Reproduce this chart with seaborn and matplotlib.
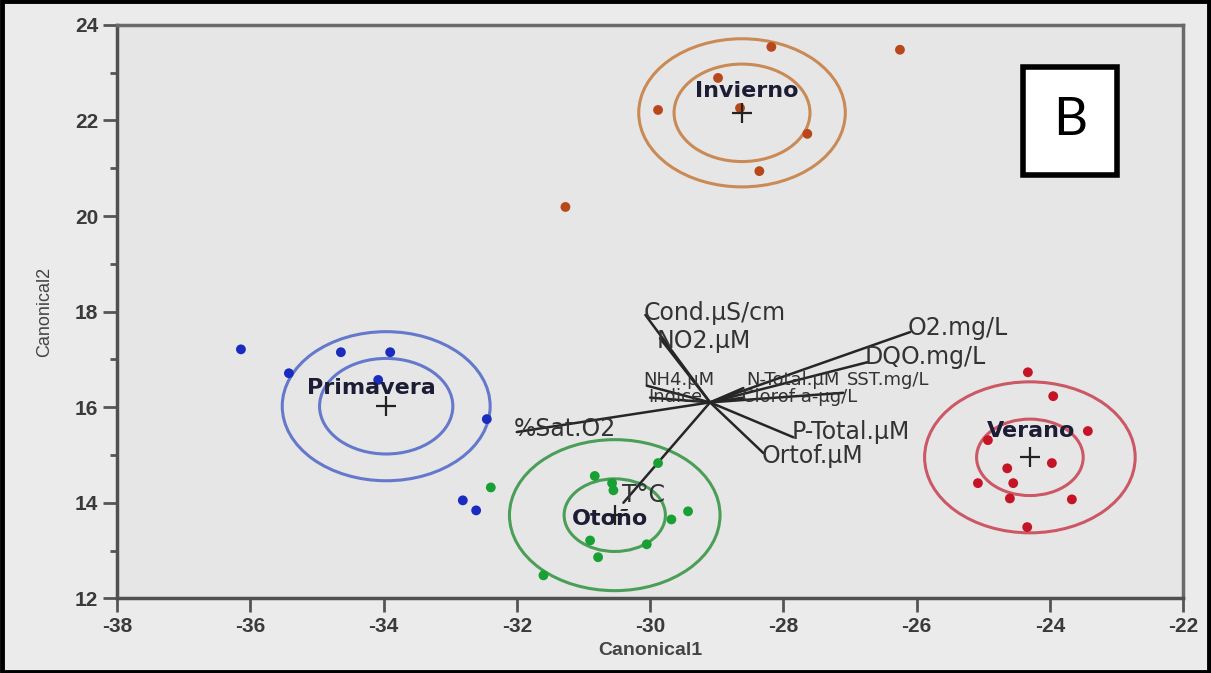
import matplotlib
matplotlib.use('Agg')
import matplotlib.pyplot as plt
from matplotlib.patches import Circle, Rectangle
from matplotlib.ticker import MultipleLocator
import pandas as pd
import seaborn as sns

# puntos por estacion
inv_x = [-28.18, -26.25, -28.98, -29.88, -28.65, -27.64, -28.36, -31.27]
inv_y = [23.54, 23.48, 22.89, 22.22, 22.26, 21.72, 20.94, 20.19]
pri_x = [-36.14, -35.42, -34.64, -33.90, -34.08, -32.45, -32.81, -32.61]
pri_y = [17.21, 16.71, 17.15, 17.15, 16.57, 15.75, 14.05, 13.84]
oto_x = [-32.39, -30.83, -30.57, -30.55, -29.43, -29.68, -30.90, -30.05, -30.78, -31.60, -29.88]
oto_y = [14.32, 14.56, 14.41, 14.26, 13.82, 13.65, 13.21, 13.13, 12.86, 12.48, 14.83]
ver_x = [-24.33, -23.95, -23.43, -24.93, -23.97, -24.64, -25.08, -24.55, -24.60, -23.67, -24.34]
ver_y = [16.73, 16.23, 15.50, 15.31, 14.83, 14.72, 14.41, 14.41, 14.09, 14.07, 13.49]

estaciones = ['Invierno', 'Primavera', 'Otoño', 'Verano']
centro_x = [-28.62, -33.96, -30.53, -24.30]
centro_y = [22.16, 16.02, 13.74, 14.95]
radio_int = [1.02, 1.00, 0.76, 0.80]
radio_ext = [1.55, 1.56, 1.58, 1.58]
etiqueta_x = [-28.55, -34.18, -30.60, -24.28]
etiqueta_y = [22.62, 16.40, 13.66, 15.50]

# vectores del biplot
origen = (-29.10, 16.10)
var_nombres = ['Cond.µS/cm', 'NO2.µM', 'NH4.µM', 'N-Total.µM', 'Indice',
               'Clorof a-µg/L', 'SST.mg/L', 'O2.mg/L', 'DQO.mg/L',
               'P-Total.µM', 'Ortof.µM', '%Sat.O2', 'T°C']
var_x = [-30.07, -29.85, -30.05, -28.60, -30.00, -28.60, -27.10, -26.10,
         -26.74, -27.85, -28.30, -32.00, -30.40]
var_y = [17.93, 17.44, 16.45, 16.40, 16.20, 16.20, 16.30, 17.57,
         16.94, 15.37, 15.04, 15.48, 14.00]
# posicion de cada etiqueta (en el grupo central se separan un poco)
var_lx = [-30.10, -29.90, -30.10, -28.55, -30.02, -28.62, -27.05, -26.14,
          -26.78, -27.88, -28.32, -32.04, -30.42]
var_ly = [17.98, 17.38, 16.56, 16.56, 16.22, 16.22, 16.56, 17.66,
          17.06, 15.48, 14.98, 15.54, 14.16]
var_fs = [17, 17, 13, 13, 13, 13, 13, 17, 17, 17, 17, 17, 17]

punto_col = {'Invierno': '#b8481c', 'Primavera': '#1a2cc0',
             'Otoño': '#18a034', 'Verano': '#c41426'}
circ_col = {'Invierno': '#c98a55', 'Primavera': '#6478cc',
            'Otoño': '#4a9e58', 'Verano': '#cc5866'}

df = pd.concat([
    pd.DataFrame({'Canonical1': inv_x, 'Canonical2': inv_y, 'Estacion': 'Invierno'}),
    pd.DataFrame({'Canonical1': pri_x, 'Canonical2': pri_y, 'Estacion': 'Primavera'}),
    pd.DataFrame({'Canonical1': oto_x, 'Canonical2': oto_y, 'Estacion': 'Otoño'}),
    pd.DataFrame({'Canonical1': ver_x, 'Canonical2': ver_y, 'Estacion': 'Verano'}),
])

sns.set_style('white', {'axes.facecolor': '#e6e6e6'})
plt.rcParams['font.family'] = ['DejaVu Sans']
plt.rcParams['axes.unicode_minus'] = False

fig = plt.figure(figsize=(12.11, 6.73), dpi=100, facecolor='#ebebeb')
ax = fig.add_axes([0.0966, 0.111, 0.8804, 0.852])

for i, est in enumerate(estaciones):
    for r in (radio_int[i], radio_ext[i]):
        ax.add_patch(Circle((centro_x[i], centro_y[i]), r, fill=False,
                            ec=circ_col[est], lw=2.2, zorder=2))

for nom, vx, vy, lx, ly, fs in zip(var_nombres, var_x, var_y, var_lx, var_ly, var_fs):
    ax.plot([origen[0], vx], [origen[1], vy], color='#262626', lw=1.8, zorder=3)
    ax.text(lx, ly, nom, fontsize=fs, color='#333333', ha='left', va='center', zorder=4)

sns.scatterplot(data=df, x='Canonical1', y='Canonical2', hue='Estacion',
                palette=punto_col, s=50, edgecolor='none', legend=False, ax=ax, zorder=5)

ax.scatter(centro_x, centro_y, marker='+', s=220, color='#222222', linewidths=1.6, zorder=6)
for i, est in enumerate(estaciones):
    ax.text(etiqueta_x[i], etiqueta_y[i], est, fontsize=16, color='#1c1c34',
            ha='center', va='center', fontweight='semibold', zorder=7)

ax.set_xlim(-38, -22)
ax.set_ylim(12, 24)
ax.xaxis.set_major_locator(MultipleLocator(2))
ax.yaxis.set_major_locator(MultipleLocator(2))
ax.yaxis.set_minor_locator(MultipleLocator(1))
ax.tick_params(axis='both', which='major', direction='out', length=10, width=2,
               color='#555555', labelsize=15, labelcolor='#3a3a3a', left=True, bottom=True)
ax.tick_params(axis='y', which='minor', direction='out', length=5, width=2,
               color='#555555', left=True)
for lab in ax.get_xticklabels() + ax.get_yticklabels():
    lab.set_family(['Liberation Sans', 'DejaVu Sans'])
    lab.set_fontweight('bold')
for s in ax.spines.values():
    s.set_color('#6a6a6a')
    s.set_linewidth(2.5)
ax.spines['left'].set_color('#505050')
ax.spines['bottom'].set_color('#505050')

ax.set_xlabel('Canonical1', fontsize=14, color='#444444', labelpad=4,
              family=['Liberation Sans', 'DejaVu Sans'], fontweight='bold')
ax.set_ylabel('Canonical2', fontsize=13, color='#444444', labelpad=16,
              family=['Liberation Sans', 'DejaVu Sans'])

# recuadro "B"
ax.add_patch(Rectangle((0.85, 0.738), 0.088, 0.189, transform=ax.transAxes,
                       fc='white', ec='black', lw=4, zorder=8))
ax.text(0.894, 0.8325, 'B', transform=ax.transAxes, fontsize=38, family='Lato',
        ha='center', va='center', color='black', zorder=9)

# borde exterior de la figura
fig.patches.append(Rectangle((0.0015, 0.002), 0.997, 0.996, transform=fig.transFigure,
                             fill=False, ec='black', lw=3.5))

fig.savefig('out.png', dpi=100, facecolor=fig.get_facecolor())
